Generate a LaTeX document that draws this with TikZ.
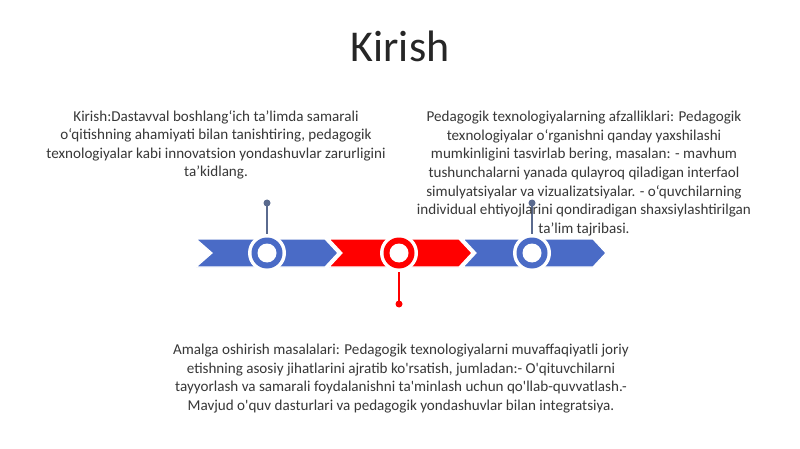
\documentclass[tikz,border=0pt]{standalone}
\usepackage{fontspec}
\setmainfont{Carlito}
\definecolor{bandblue}{HTML}{4A6BC6}
\definecolor{bandred}{HTML}{FF0000}
\definecolor{stemblue}{HTML}{5A6A8E}
\definecolor{txtgray}{HTML}{383838}
\definecolor{titlegray}{HTML}{262626}
\tikzset{
  bodytext/.style={text=txtgray, align=center, inner sep=0pt, anchor=north,
    font=\fontsize{15.1}{18.6}\selectfont},
  ringnode/.style={circle, minimum size=38pt, inner sep=0pt, fill=white},
  dotnode/.style={circle, minimum size=7pt, inner sep=0pt},
  stemline/.style={line width=1.5pt},
  chev/.style={draw=white, line width=1.2pt}
}
\begin{document}
\begin{tikzpicture}[x=1pt,y=-1pt]
\useasboundingbox (0,0) rectangle (800,449);
\fill[white] (0,0) rectangle (800,449);

% title
\node[text=titlegray, font=\fontsize{44}{50}\selectfont, inner sep=0pt] (title) at (400,46) {Kirish};

% chevron band
\fill[bandblue, chev] (196,239) -- (325,239) -- (338,253) -- (325,267) -- (196,267) -- (212,253) -- cycle;
\fill[bandred, chev] (329,239) -- (459,239) -- (472,253) -- (459,267) -- (329,267) -- (342,253) -- cycle;
\fill[bandblue, chev] (463,239) -- (593,239) -- (606,253) -- (593,267) -- (463,267) -- (476,253) -- cycle;

% stems and dots
\node[dotnode, fill=stemblue] (d1) at (267,203) {};
\node[dotnode, fill=bandred] (d2) at (399,304) {};
\node[dotnode, fill=stemblue] (d3) at (532,203) {};

\node[ringnode] (c1) at (267,253) {};
\node[ringnode] (c2) at (399,253) {};
\node[ringnode] (c3) at (532,253) {};

\draw[stemline, stemblue] (c1.north) -- (d1.center);
\draw[stemline, bandred] (c2.south) -- (d2.center);
\draw[stemline, stemblue] (c3.north) -- (d3.center);

\foreach \c/\col in {c1/bandblue, c2/bandred, c3/bandblue}{
  \fill[\col] (\c) circle (15.5);
  \fill[white] (\c) circle (9.5);
}

% texts
\node[bodytext] (t1) at (216,110) {Kirish:Dastavval boshlang‘ich ta’limda samarali\\
o‘qitishning ahamiyati bilan tanishtiring, pedagogik\\
texnologiyalar kabi innovatsion yondashuvlar zarurligini\\
ta’kidlang.};

\node[bodytext] (t2) at (584,111) {Pedagogik texnologiyalarning afzalliklari: Pedagogik\\
texnologiyalar o‘rganishni qanday yaxshilashi\\
mumkinligini tasvirlab bering, masalan: - mavhum\\
tushunchalarni yanada qulayroq qiladigan interfaol\\
simulyatsiyalar va vizualizatsiyalar. - o‘quvchilarning\\
individual ehtiyojlarini qondiradigan shaxsiylashtirilgan\\
ta’lim tajribasi.};

\node[bodytext] (t3) at (401,344) {Amalga oshirish masalalari: Pedagogik texnologiyalarni muvaffaqiyatli joriy\\
etishning asosiy jihatlarini ajratib ko\textquotesingle rsatish, jumladan:- O\textquotesingle qituvchilarni\\
tayyorlash va samarali foydalanishni ta\textquotesingle minlash uchun qo\textquotesingle llab-quvvatlash.-\\
Mavjud o\textquotesingle quv dasturlari va pedagogik yondashuvlar bilan integratsiya.};
\end{tikzpicture}
\end{document}
